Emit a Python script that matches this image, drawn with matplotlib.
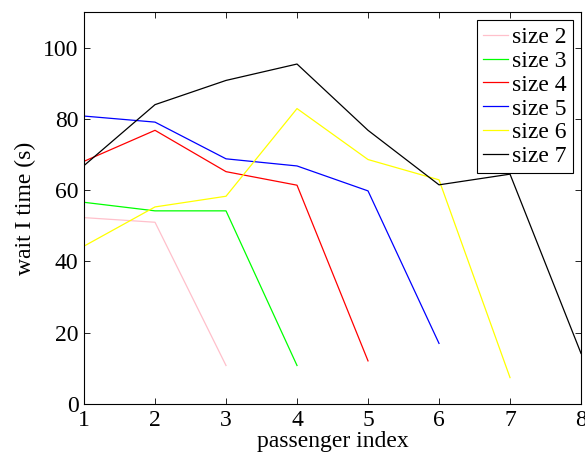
import matplotlib
matplotlib.use("Agg")
import matplotlib.pyplot as plt

plt.rcParams['font.family'] = ['Liberation Serif', 'DejaVu Serif']

passenger = [1, 2, 3, 4, 5, 6, 7, 8]

size2 = [52.3, 51.0, 10.8]
size3 = [56.6, 54.2, 54.2, 10.8]
size4 = [68.1, 76.8, 65.2, 61.4, 12.1]
size5 = [80.8, 79.1, 68.8, 66.8, 59.8, 17.0]
size6 = [44.3, 55.3, 58.3, 82.9, 68.6, 62.9, 7.4]
size7 = [66.9, 84.0, 90.8, 95.4, 76.8, 61.5, 64.5, 14.2]

series = [size2, size3, size4, size5, size6, size7]
labels = ['size 2', 'size 3', 'size 4', 'size 5', 'size 6', 'size 7']
colors = ['pink', '#00ff00', '#ff0000', '#0000ff', '#ffff00', 'black']

fig = plt.figure(figsize=(5.85, 4.58), dpi=100)
ax = fig.add_axes([0.1436, 0.1179, 0.8496, 0.8559])

for ys, lab, c in zip(series, labels, colors):
    ax.plot(passenger[:len(ys)], ys, color=c, linewidth=0.9, label=lab)

ax.set_xlim(1, 8)
ax.set_ylim(0, 110)
ax.set_xticks(passenger)
ax.set_yticks([0, 20, 40, 60, 80, 100])
ax.tick_params(direction='in', top=True, right=True, labelsize=17, length=4,
               width=0.6, pad=4)
for s in ax.spines.values():
    s.set_linewidth(0.8)

ax.set_xlabel('passenger index', fontsize=17, labelpad=0)
ax.set_ylabel('wait I time (s)', fontsize=17, labelpad=5)

leg = ax.legend(loc='upper right', fontsize=17, fancybox=False, framealpha=1,
                edgecolor='black', handlelength=1.06, handletextpad=0.17,
                labelspacing=0.1, borderpad=0.25, borderaxespad=0.36)
leg.get_frame().set_linewidth(0.8)

fig.savefig('out.png', dpi=100)
